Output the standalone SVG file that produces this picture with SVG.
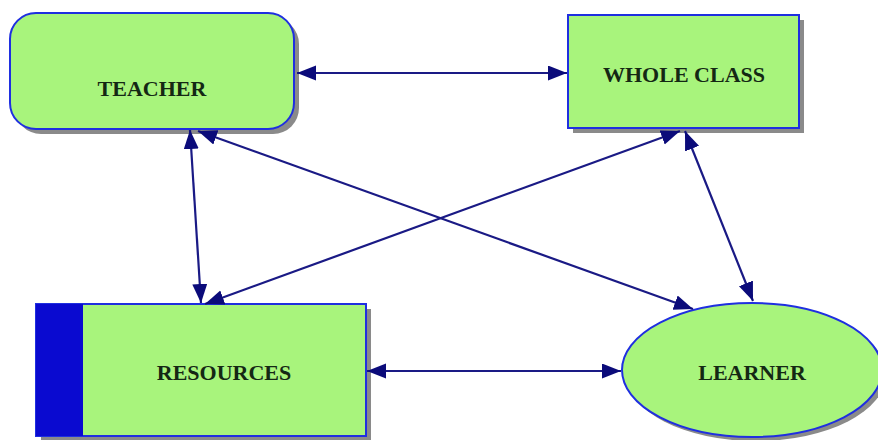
<svg xmlns="http://www.w3.org/2000/svg" width="878" height="440" viewBox="0 0 878 440">
<style>
.node{fill:#a8f47c;stroke:#1f2fe0;stroke-width:2}
.shadow{fill:#8a8a8a}
.lbl{font-family:"Liberation Serif",serif;font-weight:bold;font-size:22px;fill:#142814;text-anchor:middle}
.edge{stroke:#1a1a85;stroke-width:2.2;fill:none;marker-start:url(#ah);marker-end:url(#ah)}
</style>
<defs>
<marker id="ah" markerUnits="userSpaceOnUse" markerWidth="20" markerHeight="16" refX="19" refY="7.5" orient="auto-start-reverse">
<path d="M0,0 L19,7.5 L0,15 z" fill="#0b0b7a"/>
</marker>
</defs>
<rect width="878" height="440" fill="#ffffff"/>
<g id="teacher">
<rect class="shadow" x="15" y="18" width="284" height="116" rx="26"/>
<rect class="node" x="10" y="13" width="284" height="116" rx="26"/>
<text class="lbl" x="152" y="96">TEACHER</text>
</g>
<g id="whole-class">
<rect class="shadow" x="573" y="20" width="231" height="113"/>
<rect class="node" x="568" y="15" width="231" height="113"/>
<text class="lbl" x="684" y="82">WHOLE CLASS</text>
</g>
<g id="resources">
<rect class="shadow" x="41" y="309" width="330" height="132"/>
<rect class="node" x="36" y="304" width="330" height="132"/>
<rect x="36" y="304" width="47" height="132" fill="#0a0ad0"/>
<text class="lbl" x="224" y="380">RESOURCES</text>
</g>
<g id="learner">
<ellipse class="shadow" cx="756" cy="374" rx="130" ry="67"/>
<ellipse class="node" cx="752" cy="370" rx="130" ry="67"/>
<text class="lbl" x="752" y="380">LEARNER</text>
</g>
<g id="connectors">
<line class="edge" x1="297" y1="73" x2="567" y2="73"/>
<line class="edge" x1="190" y1="130" x2="201" y2="303"/>
<line class="edge" x1="198" y1="131" x2="693" y2="309"/>
<line class="edge" x1="680" y1="131" x2="205" y2="304"/>
<line class="edge" x1="685" y1="131" x2="753" y2="301"/>
<line class="edge" x1="367" y1="371" x2="621" y2="371"/>
</g>
</svg>
